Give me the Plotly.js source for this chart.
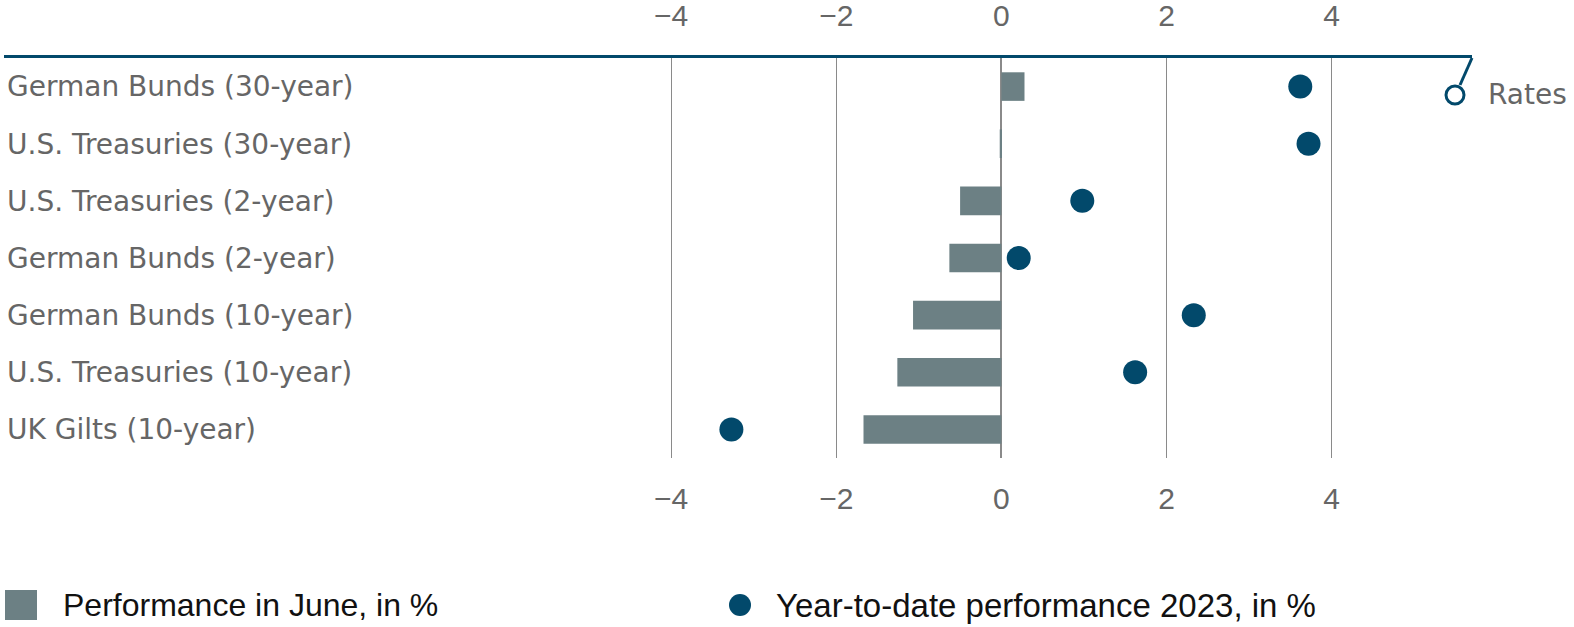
<!DOCTYPE html>
<html>
<head>
<meta charset="utf-8">
<script src="https://cdn.plot.ly/plotly-3.0.1.min.js"></script>
<style>
  html, body { margin: 0; padding: 0; background: #fff; }
  #plotDiv { width: 1574px; height: 627px; }
</style>
</head>
<body>
<div id="plotDiv"></div>
<script>
// bond rates, June 2023
const categories = [
	'German Bunds (30-year)',
	'U.S. Treasuries (30-year)',
	'U.S. Treasuries (2-year)',
	'German Bunds (2-year)',
	'German Bunds (10-year)',
	'U.S. Treasuries (10-year)',
	'UK Gilts (10-year)'
]
const june = [0.28, -0.02, -0.50, -0.63, -1.07, -1.26, -1.67]
const ytd = [3.62, 3.72, 0.98, 0.21, 2.33, 1.62, -3.27]
const tickVals = [-4, -2, 0, 2, 4]

const juneName = 'Performance in June, in %'
const ytdName = 'Year-to-date performance 2023, in %'
const groupLabel = 'Rates'

const barColor = '#6c8084'
const dotColor = '#02496b'
const gray = '#666666'
const gridGray = '#8a8a8a'
const labelFont = 'DejaVu Sans, Liberation Sans, Arial, sans-serif'

const trace_june = {
	name: juneName,
	type: 'bar',
	orientation: 'h',
	y: categories,
	x: june,
	width: 0.5,
	marker: {color: barColor},
	hoverinfo: 'x+y'
}
const trace_ytd = {
	name: ytdName,
	type: 'scatter',
	mode: 'markers',
	y: categories,
	x: ytd,
	xaxis: 'x2',
	marker: {color: dotColor, size: 24},
	hoverinfo: 'x+y'
}

const xRange = [-12.08, 5.70]

const layout = {
	width: 1574,
	height: 627,
	margin: {l: 4, r: 102, t: 58, b: 169},
	paper_bgcolor: '#fff',
	plot_bgcolor: '#fff',
	font: {family: 'Liberation Sans, Arial, sans-serif', color: gray, size: 26},
	showlegend: false,
	xaxis: {
		range: xRange,
		tickvals: tickVals,
		showgrid: true,
		gridcolor: gridGray,
		gridwidth: 1.3,
		zeroline: true,
		zerolinecolor: gridGray,
		zerolinewidth: 1.6,
		showline: false,
		ticks: '',
		ticklabelstandoff: 20,
		tickfont: {size: 30, color: gray},
		fixedrange: true
	},
	xaxis2: {
		overlaying: 'x',
		side: 'top',
		matches: 'x',
		range: xRange,
		tickvals: tickVals,
		showgrid: false,
		zeroline: false,
		showline: true,
		linecolor: dotColor,
		linewidth: 3,
		ticks: '',
		ticklabelstandoff: 17,
		tickfont: {size: 30, color: gray},
		fixedrange: true
	},
	yaxis: {
		type: 'category',
		range: [6.5, -0.5],
		showgrid: false,
		zeroline: false,
		showline: false,
		ticks: '',
		ticklabelposition: 'inside',
		tickfont: {family: labelFont, size: 28, color: gray},
		fixedrange: true
	},
	shapes: [
		// "Rates" hook at the end of the axis line
		{type: 'line', xref: 'paper', yref: 'paper', xsizemode: 'pixel', ysizemode: 'pixel',
			xanchor: 1, yanchor: 1, x0: 0, y0: 0, x1: -12, y1: -27,
			line: {color: dotColor, width: 3}},
		{type: 'circle', xref: 'paper', yref: 'paper', xsizemode: 'pixel', ysizemode: 'pixel',
			xanchor: 1, yanchor: 1, x0: -26, x1: -8, y0: -46, y1: -28,
			line: {color: dotColor, width: 3}, fillcolor: '#fff'},
		// legend glyphs
		{type: 'rect', xref: 'paper', yref: 'paper', xsizemode: 'pixel', ysizemode: 'pixel',
			xanchor: 0, yanchor: 0, x0: 1, x1: 33, y0: -132, y1: -162,
			line: {width: 0}, fillcolor: barColor},
		{type: 'circle', xref: 'paper', yref: 'paper', xsizemode: 'pixel', ysizemode: 'pixel',
			xanchor: 0, yanchor: 0, x0: 725, x1: 747, y0: -136, y1: -158,
			line: {width: 0}, fillcolor: dotColor}
	],
	annotations: [
		{text: groupLabel, xref: 'paper', yref: 'paper', x: 1, y: 1, xanchor: 'left', yanchor: 'middle',
			xshift: 14, yshift: -36, showarrow: false, font: {family: labelFont, size: 28, color: gray}},
		{text: juneName, xref: 'paper', yref: 'paper', x: 0, y: 0, xanchor: 'left', yanchor: 'middle',
			xshift: 57, yshift: -147, showarrow: false,
			font: {family: 'Liberation Sans Narrow, Arial Narrow, sans-serif', size: 32, color: '#111'}},
		{text: ytdName, xref: 'paper', yref: 'paper', x: 0, y: 0, xanchor: 'left', yanchor: 'middle',
			xshift: 770, yshift: -147, showarrow: false,
			font: {family: 'Liberation Sans Narrow, Arial Narrow, sans-serif', size: 33, color: '#111'}}
	]
}

const config = {displayModeBar: false}
Plotly.newPlot('plotDiv', [trace_june, trace_ytd], layout, config)
</script>
</body>
</html>
